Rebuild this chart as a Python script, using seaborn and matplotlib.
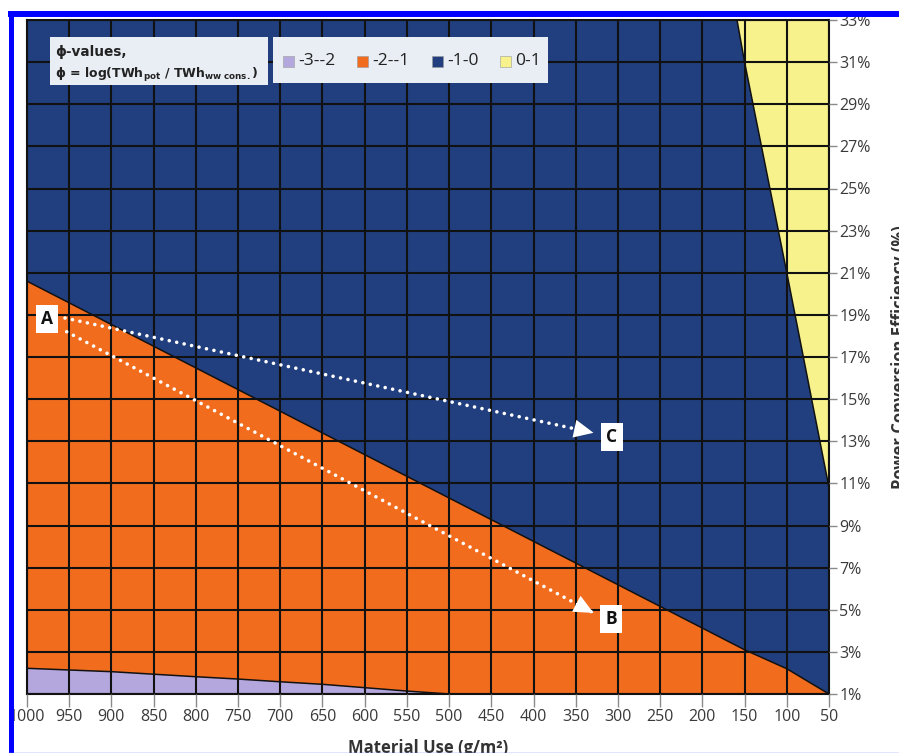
import matplotlib
matplotlib.use("Agg")
import matplotlib.pyplot as plt
import seaborn as sns
from matplotlib.patches import Rectangle
from matplotlib.lines import Line2D

# Axis ticks: material use (g/m^2) and power conversion efficiency (%)
material_ticks = list(range(1000, 0, -50))
efficiency_ticks = list(range(1, 34, 2))

# Contour boundaries of phi = log(TWh_pot / TWh_ww cons.)
bound_m2_x = [1000, 950, 900, 850, 800, 750, 700, 650, 600, 550, 500]
bound_m2_y = [2.22, 2.14, 2.06, 1.94, 1.82, 1.71, 1.58, 1.46, 1.30, 1.14, 1.0]
bound_m1_x = [1000, 150, 100, 50]
bound_m1_y = [20.6, 3.1, 2.2, 1.0]
bound_0_x = [159, 150, 100, 50]
bound_0_y = [33.0, 31.0, 21.0, 10.8]

legend_labels = ["-3--2", "-2--1", "-1-0", "0-1"]
legend_colors = ["#b3a7dd", "#f26c1e", "#213f7e", "#f7f28c"]

# Scenario markers and the development paths A -> B, A -> C
point_labels = ["A", "B", "C"]
point_x = [976, 308, 307]
point_y = [18.8, 4.56, 13.2]
path_b_x = [953, 329]
path_b_y = [18.2, 4.85]
path_c_x = [955, 329]
path_c_y = [18.85, 13.4]

W, H = 899, 753
sns.set_theme(style="white")
plt.rcParams["font.family"] = ["Open Sans", "DejaVu Sans"]

fig = plt.figure(figsize=(W / 100, H / 100), dpi=100)
fig.patch.set_facecolor("white")


def fx(x):
    return x / W


def fy(y):
    return 1 - y / H


ax = fig.add_axes([fx(27), fy(694), fx(829) - fx(27), fy(20) - fy(694)])

xmin, xmax = 1000, 50
ymin, ymax = 1, 33

# Filled contour bands
ax.fill([xmin, xmax, xmax, xmin], [ymin, ymin, ymax, ymax], color=legend_colors[2], lw=0, zorder=1)
ax.fill([xmin] + bound_m1_x + [xmin], [ymin] + bound_m1_y + [ymin],
        color=legend_colors[1], lw=0, zorder=1)
ax.fill([xmin] + bound_m2_x, [ymin] + bound_m2_y, color=legend_colors[0], lw=0, zorder=1)
ax.fill(bound_0_x + [xmax], bound_0_y + [ymax], color=legend_colors[3], lw=0, zorder=1)

for bx, by in [(bound_m2_x, bound_m2_y), (bound_m1_x, bound_m1_y), (bound_0_x, bound_0_y)]:
    sns.lineplot(x=bx, y=by, sort=False, color="#111111", lw=1.1, ax=ax, zorder=2)

# Dotted development paths with arrow heads
for px_, py_ in [(path_b_x, path_b_y), (path_c_x, path_c_y)]:
    sns.lineplot(x=px_, y=py_, sort=False, color="white", lw=2.6,
                 linestyle=(0, (0.01, 2.1)), dash_capstyle="round", ax=ax, zorder=4)
    ax.annotate("", xy=(px_[1], py_[1]), xytext=(px_[0], py_[0]),
                arrowprops=dict(arrowstyle="-|>,head_length=1.4,head_width=0.65",
                                color="white", lw=0, shrinkA=0, shrinkB=0,
                                mutation_scale=10), zorder=5)

for lab, x, y in zip(point_labels, point_x, point_y):
    ax.text(x, y, lab, ha="center", va="center", fontsize=12.5, fontweight="bold",
            color="#111111", zorder=6,
            bbox=dict(boxstyle="square,pad=0.3", fc="white", ec="none"))

ax.set_xlim(xmin, xmax)
ax.set_ylim(ymin, ymax)
ax.set_xticks(material_ticks)
ax.set_xticklabels([str(v) for v in material_ticks])
ax.set_yticks(efficiency_ticks)
ax.set_yticklabels([f"{v}%" for v in efficiency_ticks])
ax.yaxis.tick_right()
ax.set_axisbelow(False)
ax.grid(True, color="#111111", lw=1.5)
ax.tick_params(axis="both", which="major", labelsize=11.5, labelcolor="#3a3a3a",
               color="#8a8a8a", width=1, direction="out")
ax.tick_params(axis="x", length=9, pad=2, bottom=True)
ax.tick_params(axis="y", length=6, pad=1.5, right=True, left=False)
for s in ax.spines.values():
    s.set_color("#111111")
    s.set_linewidth(1.5)
ax.set_xlabel("")
ax.set_ylabel("")

# Axis titles
fig.text(fx(428), fy(739), "Material Use (g/m²)", ha="center", va="top",
         fontsize=12, fontweight="bold", color="#333333")
fig.text(fx(891), fy(357), "Power Conversion Efficiency (%)", ha="left", va="center",
         rotation=90, fontsize=12, fontweight="bold", color="#333333")

# Legend title box
fig.add_artist(Rectangle((fx(50), fy(85)), fx(268) - fx(50), fy(37) - fy(85),
                         transform=fig.transFigure, fc="#e9eef4", ec="none", zorder=10))
fig.text(fx(55), fy(52), "ϕ-values,", ha="left", va="center", fontsize=9.8,
         fontweight="bold", color="#222222", zorder=11, family=["DejaVu Sans"])
fig.text(fx(55), fy(75), r"ϕ = log(TWh$_{\mathregular{pot}}$ / TWh$_{\mathregular{ww\ cons.}}$)",
         ha="left", va="center", fontsize=9, fontweight="bold", color="#222222",
         zorder=11, family=["DejaVu Sans"])

# Legend entries box
fig.add_artist(Rectangle((fx(273), fy(83)), fx(548) - fx(273), fy(37) - fy(83),
                         transform=fig.transFigure, fc="#e9eef4", ec="none", zorder=10))
square_x = [283, 357, 432, 500]
for sx, lab, col in zip(square_x, legend_labels, legend_colors):
    fig.add_artist(Rectangle((fx(sx), fy(67)), fx(11), fy(56) - fy(67),
                             transform=fig.transFigure, fc=col, ec="#9a9a9a",
                             lw=0.4, zorder=11))
    fig.text(fx(sx + 15), fy(61), lab, ha="left", va="center", fontsize=12.5,
             color="#222222", zorder=11)

# Blue frame around the figure
fig.add_artist(Line2D([fx(10.5), fx(10.5)], [fy(12), fy(753)], transform=fig.transFigure,
                      color="#0000ff", lw=3.6, zorder=20, solid_capstyle="butt"))
fig.add_artist(Line2D([fx(8), fx(899)], [fy(14), fy(14)], transform=fig.transFigure,
                      color="#0000ff", lw=4.3, zorder=20, solid_capstyle="butt"))
fig.add_artist(Line2D([fx(8), fx(899)], [fy(752.5), fy(752.5)], transform=fig.transFigure,
                      color="#6f7dff", lw=1.0, zorder=20, solid_capstyle="butt"))

fig.savefig("out.png", dpi=100, facecolor="white")
